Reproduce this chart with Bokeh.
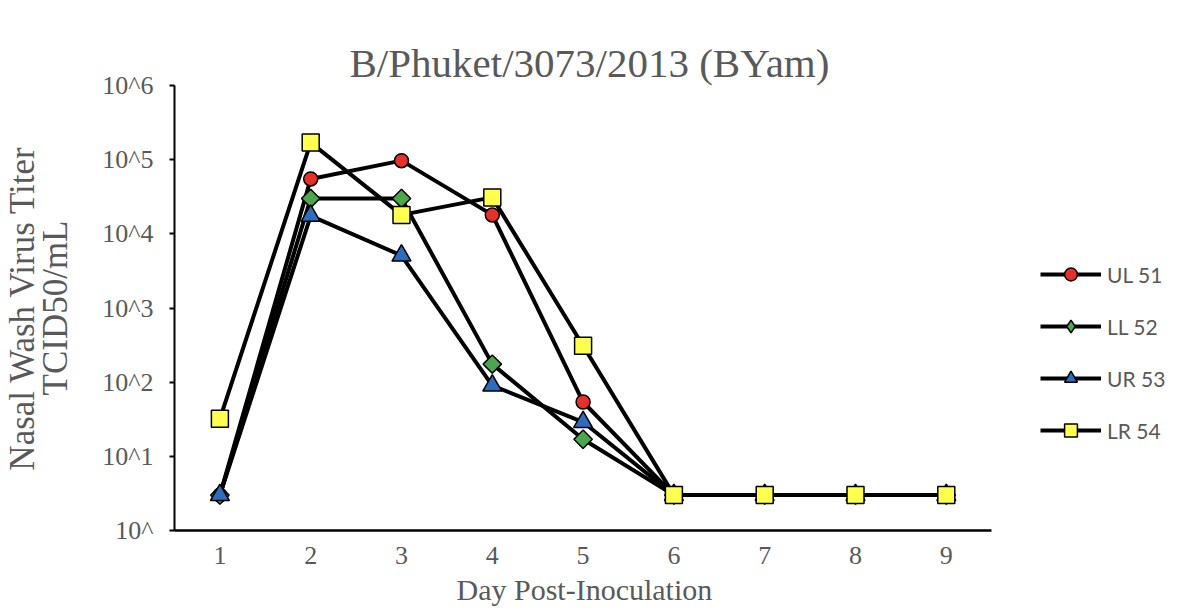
from bokeh.plotting import figure
from bokeh.models import FixedTicker, Legend, LegendItem, Range1d, Title, LinearAxis
from bokeh.embed import file_html
from bokeh.resources import INLINE

days = [1, 2, 3, 4, 5, 6, 7, 8, 9]
ul51 = [3, 55000, 97000, 18000, 54, 3, 3, 3, 3]
ll52 = [3, 30000, 30000, 175, 17, 3, 3, 3, 3]
ur53 = [3, 17500, 5100, 90, 29, 3, 3, 3, 3]
lr54 = [32, 170000, 18000, 31000, 310, 3, 3, 3, 3]

series_names = ["UL 51", "LL 52", "UR 53", "LR 54"]
y_tick_vals = [1, 10, 100, 1000, 10000, 100000, 1000000]
y_tick_labels = ["10^", "10^1", "10^2", "10^3", "10^4", "10^5", "10^6"]
x_tick_vals = days
title_text = "B/Phuket/3073/2013 (BYam)"
x_title = "Day Post-Inoculation"
y_title = "Nasal Wash Virus Titer\nTCID50/mL"

GRAY = "#595959"
SERIF = "Liberation Serif"

W, H = 1180, 611
LEFT, AXIS_RIGHT, TOP, BOTTOM = 173, 991, 85, 530
# frame extends to the right edge so the legend fits inside it;
# the x axis line is bounded to the data span
x_per_px = 9.0 / (AXIS_RIGHT - LEFT)
x_end = 0.5 + (W - LEFT) * x_per_px

p = figure(width=W, height=H, y_axis_type="log",
           x_range=Range1d(0.5, x_end), y_range=Range1d(1, 1e6),
           output_backend="svg", toolbar_location=None, title_location=None,
           min_border_left=LEFT, min_border_right=0,
           min_border_top=TOP, min_border_bottom=H - BOTTOM)

main_title = Title(text=title_text, align="left", offset=348 - LEFT, standoff=0,
                   text_font=SERIF, text_font_size="41px", text_font_style="normal",
                   text_color=GRAY)
p.add_layout(main_title, "above")
# an invisible, tick-less axis used purely as a spacer between frame and title
spacer = LinearAxis(ticker=FixedTicker(ticks=[]), axis_line_color=None,
                    major_tick_line_color=None, minor_tick_line_color=None,
                    major_tick_in=0, major_tick_out=36, minor_tick_out=0,
                    major_label_standoff=0)
p.add_layout(spacer, "above")

p.outline_line_color = None
p.xgrid.grid_line_color = None
p.ygrid.grid_line_color = None

# x axis (the main, bottom one)
xax = p.below[0]
xax.bounds = (0.5, 9.5)
xax.ticker = FixedTicker(ticks=x_tick_vals)
xax.major_tick_line_color = None
xax.minor_tick_line_color = None
xax.axis_line_color = "black"
xax.axis_line_width = 2.5
xax.major_label_text_font = SERIF
xax.major_label_text_font_size = "26px"
xax.major_label_text_color = GRAY
xax.major_label_standoff = 10

# x axis title, placed below the axis and centred on the data span
xt = Title(text=x_title, align="left", offset=455 - LEFT, standoff=8,
           text_font=SERIF, text_font_size="30px", text_font_style="normal",
           text_color=GRAY)
p.add_layout(xt, "below")

# y axis
p.yaxis.ticker = FixedTicker(ticks=y_tick_vals, minor_ticks=[])
p.yaxis.major_label_overrides = {v: l for v, l in zip(y_tick_vals, y_tick_labels)}
p.yaxis.axis_line_color = "black"
p.yaxis.axis_line_width = 2
p.yaxis.major_tick_line_color = "black"
p.yaxis.major_tick_line_width = 2
p.yaxis.major_tick_in = 0
p.yaxis.major_tick_out = 5
p.yaxis.minor_tick_line_color = None
p.yaxis.major_label_text_font = SERIF
p.yaxis.major_label_text_font_size = "26px"
p.yaxis.major_label_text_color = GRAY
p.yaxis.major_label_standoff = 16
p.yaxis.axis_label = y_title
p.yaxis.axis_label_text_font = SERIF
p.yaxis.axis_label_text_font_size = "35px"
p.yaxis.axis_label_text_font_style = "normal"
p.yaxis.axis_label_text_color = GRAY
p.yaxis.axis_label_standoff = 24
p.yaxis.axis_label_text_line_height = 0.85

specs = [
    (ul51, "circle", "#e8302a", 14, 0.0, None),
    (ll52, "square", "#4ca64c", 13, 0.785398, "diamond"),
    (ur53, "triangle", "#2e6dbd", 19, 0.0, None),
    (lr54, "square", "#ffff4d", 17, 0.0, None),
]

items = []
for name, (vals, marker, color, size, ang, leg_marker) in zip(series_names, specs):
    lr = p.line(days, vals, line_color="black", line_width=4)
    if leg_marker is not None:
        # plain diamond (used for the legend), hidden under the wider rotated square
        sr_leg = p.scatter(days, vals, marker=leg_marker, size=size + 4,
                           fill_color=color, line_color="black", line_width=1.5)
    sr = p.scatter(days, vals, marker=marker, size=size, angle=ang,
                   fill_color=color, line_color="black", line_width=1.5)
    items.append(LegendItem(label=name, renderers=[lr, sr_leg if leg_marker else sr]))

legend = Legend(items=items, location=(1039 - LEFT, 84))
legend.border_line_color = None
legend.background_fill_alpha = 0
legend.padding = 0
legend.margin = 0
legend.spacing = 20
legend.glyph_width = 61
legend.glyph_height = 32
legend.label_height = 32
legend.label_standoff = 6
legend.label_text_font = "Lato"
legend.label_text_font_size = "21px"
legend.label_text_color = GRAY
p.add_layout(legend)

open("out.html", "w").write(file_html(p, INLINE))
